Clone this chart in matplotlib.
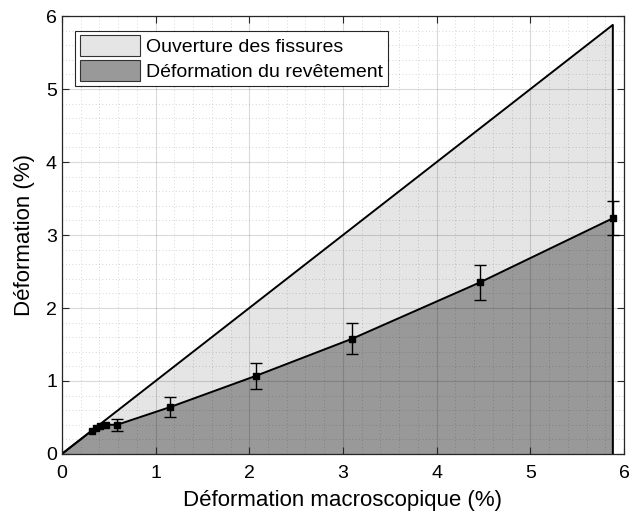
import matplotlib.pyplot as plt
import numpy as np
from matplotlib.patches import Patch
from matplotlib.ticker import MultipleLocator

plt.rcParams['font.family'] = ['Liberation Sans', 'DejaVu Sans']

# Macroscopic strain (%) and coating strain (%) with its scatter
strain_macro = [0.32, 0.36, 0.41, 0.47, 0.59, 1.15, 2.07, 3.10, 4.46, 5.88]
strain_coat = [0.32, 0.36, 0.39, 0.40, 0.40, 0.64, 1.07, 1.58, 2.35, 3.23]
strain_err = [0.0, 0.0, 0.0, 0.0, 0.08, 0.14, 0.18, 0.21, 0.24, 0.23]

x_end = strain_macro[-1]

fig = plt.figure(figsize=(6.31, 5.2), dpi=100)
ax = fig.add_axes([0.098, 0.127, 0.891, 0.842])

# total strain envelope (y = x) -> crack opening is the gap above the coating
xe = np.array([0.0, x_end])
ax.fill_between(xe, 0, xe, color='#e5e5e5', zorder=1)
ax.plot([0, x_end, x_end], [0, x_end, 0], color='black', lw=1.4, zorder=3)

xs = np.concatenate([[0.0], strain_macro])
ys = np.concatenate([[0.0], strain_coat])
ax.fill_between(xs, 0, ys, color='#999999', zorder=1.5)
ax.plot(xs, ys, color='black', lw=1.4, zorder=3)

err = np.array(strain_err)
mask = err > 0
ax.errorbar(np.array(strain_macro)[mask], np.array(strain_coat)[mask],
            yerr=err[mask], fmt='none', ecolor='black', elinewidth=1.0,
            capsize=4, capthick=1.0, zorder=4)
ax.plot(strain_macro, strain_coat, 's', color='black', ms=5, zorder=5)

ax.set_xlim(0, 6)
ax.set_ylim(0, 6)
ax.xaxis.set_major_locator(MultipleLocator(1))
ax.yaxis.set_major_locator(MultipleLocator(1))
ax.xaxis.set_minor_locator(MultipleLocator(0.2))
ax.yaxis.set_minor_locator(MultipleLocator(0.2))

# translucent grid so it stays visible over both fills
ax.grid(True, which='major', color='black', alpha=0.15, lw=0.8)
ax.grid(True, which='minor', color='black', alpha=0.22, lw=0.6, ls=(0, (1, 3)))
for gl in ax.get_xgridlines() + ax.get_ygridlines():
    gl.set_zorder(2)
for gl in ax.xaxis.get_minorticklines() + ax.yaxis.get_minorticklines():
    gl.set_visible(False)

ax.tick_params(which='major', direction='in', top=True, right=True,
               length=5, width=0.8, labelsize=14, color='#262626')
ax.tick_params(axis='x', which='major', pad=8)
ax.tick_params(which='minor', length=0)
for s in ax.spines.values():
    s.set_color('#262626')
    s.set_linewidth(0.9)
    s.set_zorder(6)

ax.set_xlabel('Déformation macroscopique (%)', fontsize=16, labelpad=6)
ax.set_ylabel('Déformation (%)', fontsize=16, labelpad=8)

handles = [Patch(facecolor='#e5e5e5', edgecolor='#333333', lw=0.8),
           Patch(facecolor='#999999', edgecolor='#333333', lw=0.8)]
leg = ax.legend(handles, ['Ouverture des fissures', 'Déformation du revêtement'],
                loc='upper left', bbox_to_anchor=(0.023, 0.967), fontsize=14,
                fancybox=False, framealpha=1, edgecolor='#262626',
                handlelength=3.1, handleheight=1.25, handletextpad=0.3,
                borderpad=0.25, labelspacing=0.2, borderaxespad=0.0)
leg.get_frame().set_linewidth(0.8)
leg.set_zorder(10)

fig.savefig('out.png', dpi=100, facecolor='white')
